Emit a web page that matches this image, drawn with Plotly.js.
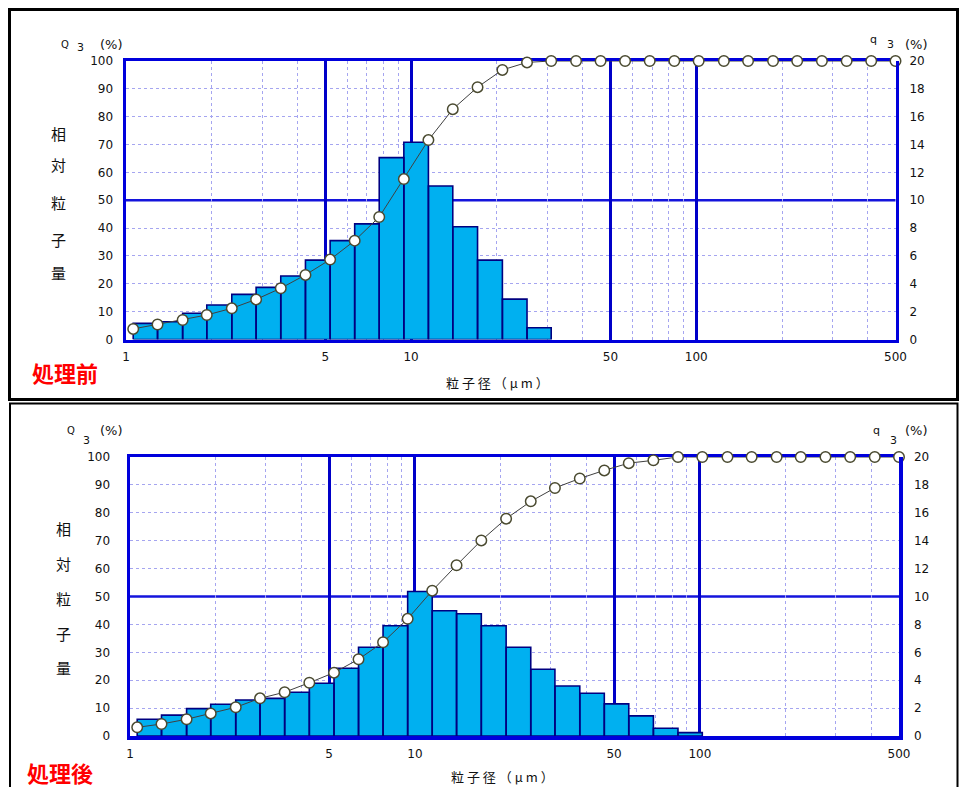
<!DOCTYPE html>
<html>
<head>
<meta charset="utf-8">
<script src="https://cdn.plot.ly/plotly-3.0.1.min.js"></script>
<style>
html,body{margin:0;padding:0;background:#fff;}
#chart{width:961px;height:787px;}
</style>
</head>
<body>
<div id="chart"></div>
<script>
// Particle size channel boundaries (µm)
const sizes = [1.06,1.29,1.58,1.92,2.35,2.86,3.49,4.26,5.20,6.34,7.73,9.43,11.5,14.0,17.1,20.9,25.5,31.0,37.9,46.2,56.3,68.7,83.8,102,125,152,186,226,276,337,411,500];

// 処理前 (before treatment)
const beforeCum = [3.8,5.4,7.0,8.8,11.2,14.4,18.4,23.2,28.7,35.5,44.0,57.6,71.6,82.7,90.6,96.8,99.5,100,100,100,100,100,100,100,100,100,100,100,100,100,100,100];
const beforeFreq = [1.16,1.28,1.88,2.48,3.24,3.74,4.56,5.70,7.10,8.30,13.06,14.16,11.02,8.10,5.70,2.90,0.84];

// 処理後 (after treatment)
const afterCum = [3.1,4.3,6.0,8.1,10.3,13.5,15.7,19.1,22.7,27.5,33.6,42.0,52.1,61.2,70.1,77.9,84.1,88.9,92.3,95.2,97.8,98.8,100,100,100,100,100,100,100,100,100,100];
const afterFreq = [1.20,1.50,1.96,2.28,2.58,2.70,3.14,3.78,4.86,6.36,7.90,10.36,8.98,8.76,7.90,6.36,4.78,3.58,3.06,2.30,1.44,0.56,0.24];

const xTickVals = [1,5,10,50,100,500];
const xTickText = ['1','5','10','50','100','500'];
const xMinorVals = [2,3,4,6,7,8,9,20,30,40,60,70,80,90,200,300,400];
const yMinorVals = [2,4,6,8,12,14,16,18];

const W = 961, H = 787;
const px = x => x / W;
const py = y => 1 - y / H;

const FRAME = 'rgb(0,0,220)';
const MAJOR = 'rgb(0,0,200)';
const MINOR = 'rgb(165,165,240)';
const BARFILL = 'rgb(0,176,240)';
const BAREDGE = 'rgb(0,0,128)';
const tickFont = {family: 'DejaVu Sans, sans-serif', size: 12, color: '#111'};
const cjk = 'Noto Sans CJK JP, sans-serif';

function rects(edges, freq) {
  const xs = [], ys = [];
  freq.forEach((h, i) => {
    xs.push(edges[i], edges[i], edges[i + 1], edges[i + 1], edges[i], null);
    ys.push(0, h, h, 0, 0, null);
  });
  return {x: xs, y: ys};
}

function barTrace(freq, xa, ya) {
  const r = rects(sizes, freq);
  return {x: r.x, y: r.y, xaxis: xa, yaxis: ya, type: 'scatter', mode: 'lines',
    fill: 'toself', fillcolor: BARFILL, line: {color: BAREDGE, width: 1.6},
    hoverinfo: 'skip', showlegend: false};
}
function cumTrace(cum, xa, ya) {
  return {x: sizes, y: cum, xaxis: xa, yaxis: ya, type: 'scatter', mode: 'lines+markers',
    line: {color: '#404040', width: 1},
    marker: {symbol: 'circle', size: 10.5, color: '#ffffff', line: {color: '#4a4a30', width: 1.5}},
    cliponaxis: false, showlegend: false};
}

const data = [
  barTrace(beforeFreq, 'x', 'y'),
  cumTrace(beforeCum, 'x', 'y2'),
  barTrace(afterFreq, 'x2', 'y3'),
  cumTrace(afterCum, 'x2', 'y4')
];

function xAxis(domain, anchor) {
  return {type: 'log', range: [0, Math.log10(500)], domain: domain, anchor: anchor,
    tickmode: 'array', tickvals: xTickVals, ticktext: xTickText, ticks: '',
    tickfont: tickFont, ticklabelstandoff: 4,
    showgrid: true, gridcolor: MAJOR, gridwidth: 3,
    minor: {tickmode: 'array', tickvals: xMinorVals, showgrid: true, gridcolor: MINOR, griddash: 'dot', gridwidth: 1, ticks: ''},
    showline: true, linecolor: FRAME, linewidth: 3.5, mirror: true,
    zeroline: false, layer: 'below traces', fixedrange: true};
}
function qAxis(domain, anchor, standoff) {
  return {domain: domain, anchor: anchor, side: 'right', range: [0, 20], dtick: 2, tick0: 0,
    ticks: '', tickfont: tickFont, ticklabelstandoff: standoff,
    showgrid: false,
    minor: {tickmode: 'array', tickvals: yMinorVals, showgrid: true, gridcolor: MINOR, griddash: 'dot', gridwidth: 1, ticks: ''},
    showline: true, linecolor: FRAME, linewidth: 3.5, mirror: true, zeroline: false, fixedrange: true};
}
function QAxis(over, anchor, standoff) {
  return {overlaying: over, anchor: anchor, side: 'left', range: [0, 100], dtick: 10, tick0: 0,
    ticks: '', tickfont: tickFont, ticklabelstandoff: standoff,
    showgrid: false, showline: true, linecolor: FRAME, linewidth: 3.5, zeroline: false, fixedrange: true};
}

const topX = [px(126), px(895.5)], topY = [py(339.5), py(61)];
const botX = [px(130), px(899)], botY = [py(736), py(457)];

function ann(text, x, y, size, opts) {
  return Object.assign({text: text, x: px(x), y: py(y), xref: 'paper', yref: 'paper',
    showarrow: false, xanchor: 'center', yanchor: 'middle',
    font: {family: 'DejaVu Sans, sans-serif', size: size, color: '#111'}}, opts || {});
}
const annotations = [];
function panelLabels(o) {
  annotations.push(ann('Q', o.Qx, o.Qy, 10));
  annotations.push(ann('3', o.Qx + 15, o.Q3y, 11));
  annotations.push(ann('(%)', 111, o.Qy, 13));
  annotations.push(ann('q', o.qx, o.qy, 11));
  annotations.push(ann('3', o.qx + 17, o.q3y, 11));
  annotations.push(ann('(%)', 916, o.pcy, 13));
  const chars = ['相', '対', '粒', '子', '量'];
  chars.forEach((c, i) => annotations.push(ann(c, o.vx, o.vy[i], 14, {font: {family: cjk, size: 15, color: '#111'}})));
  annotations.push(ann('粒 子 径 （ μ m ）', o.tx, o.ty, 13, {font: {family: cjk, size: 13, color: '#111'}}));
  annotations.push(ann('<b>' + o.red + '</b>', o.rx, o.ry, 22, {font: {family: cjk, size: 22, color: '#ff0000'}}));
}
panelLabels({Qx: 65, Qy: 44, Q3y: 47, qx: 873, qy: 40, q3y: 45, pcy: 44,
  vx: 58, vy: [133, 164, 202, 239, 272], tx: 498, ty: 383, red: '処理前', rx: 65, ry: 372});
panelLabels({Qx: 71, Qy: 430, Q3y: 440, qx: 876, qy: 430, q3y: 440, pcy: 430,
  vx: 63, vy: [528, 563, 598, 633, 667], tx: 502, ty: 776, red: '処理後', rx: 60, ry: 772});

const shapes = [
  {type: 'rect', xref: 'paper', yref: 'paper', x0: px(9.5), x1: px(957.5), y0: py(9.5), y1: py(399.5),
   line: {color: '#000', width: 3}, layer: 'above'},
  {type: 'rect', xref: 'paper', yref: 'paper', x0: px(10), x1: px(957.5), y0: py(403.5), y1: py(800),
   line: {color: '#000', width: 2}, layer: 'above'},
  // mid-height reference lines, drawn under the traces
  {type: 'line', xref: 'x domain', x0: 0, x1: 1, yref: 'y domain', y0: 0.5, y1: 0.5,
   line: {color: 'rgb(20,20,220)', width: 2.5}, layer: 'below'},
  {type: 'line', xref: 'x2 domain', x0: 0, x1: 1, yref: 'y3 domain', y0: 0.5, y1: 0.5,
   line: {color: 'rgb(20,20,220)', width: 2.5}, layer: 'below'}
];

const layout = {
  width: W, height: H, margin: {l: 0, r: 0, t: 0, b: 0},
  paper_bgcolor: '#fff', plot_bgcolor: 'rgba(0,0,0,0)', showlegend: false, hovermode: false,
  xaxis: xAxis(topX, 'y'),
  yaxis: qAxis(topY, 'x', 8),
  yaxis2: QAxis('y', 'x', 7),
  xaxis2: xAxis(botX, 'y3'),
  yaxis3: qAxis(botY, 'x2', 9),
  yaxis4: QAxis('y3', 'x2', 14),
  annotations: annotations, shapes: shapes
};

Plotly.newPlot('chart', data, layout, {displayModeBar: false, staticPlot: true});
</script>
</body>
</html>
